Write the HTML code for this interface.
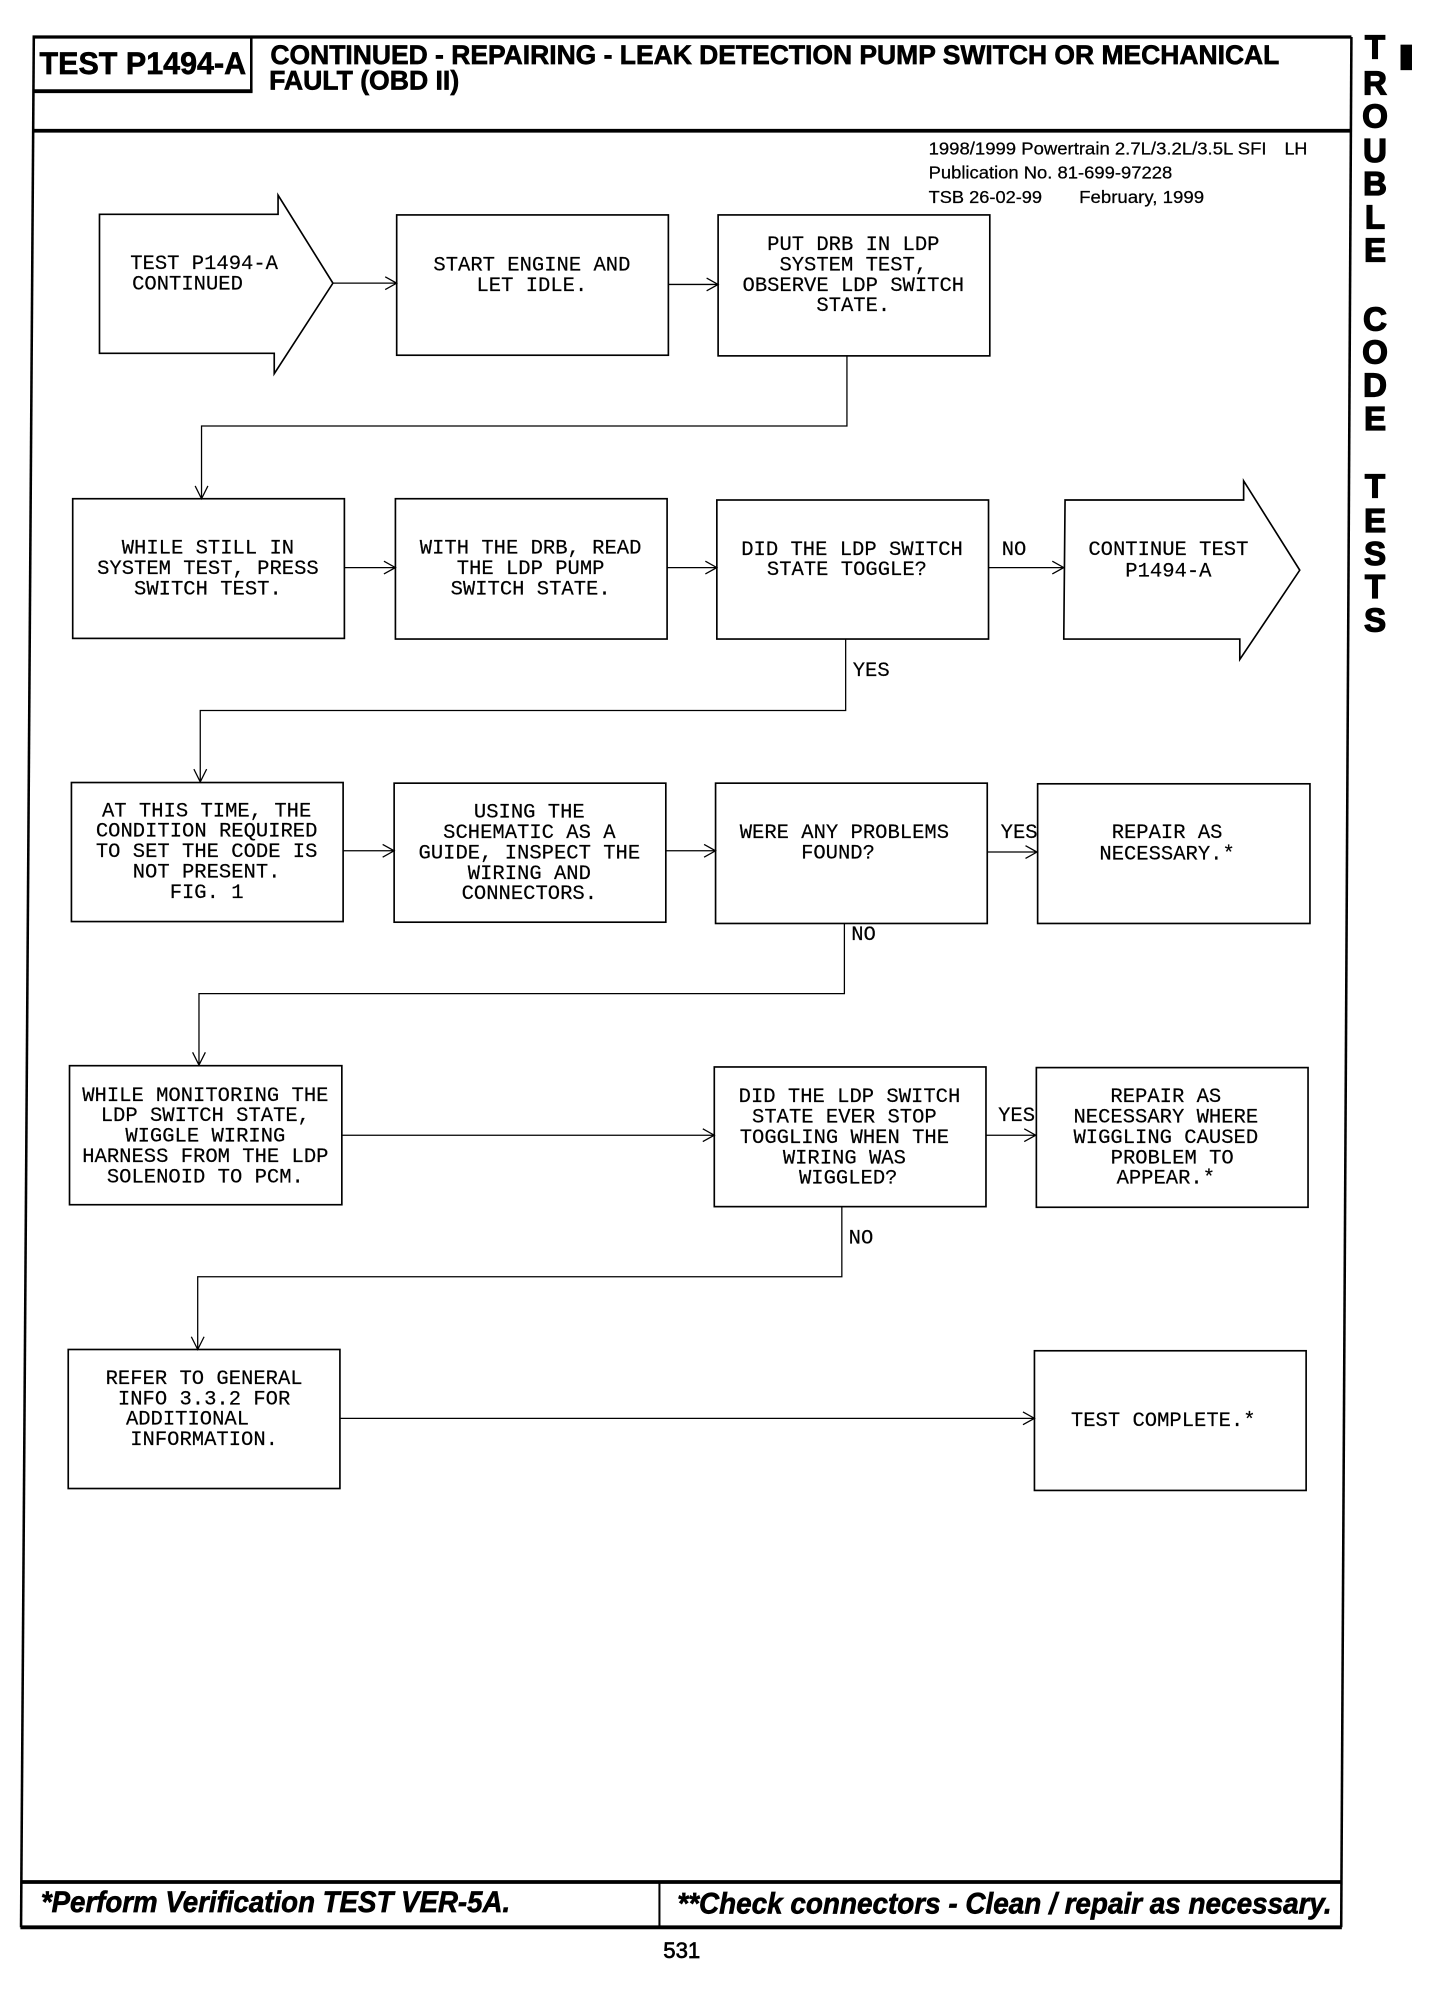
<!DOCTYPE html>
<html lang="en">
<head>
<meta charset="utf-8">
<title>Test P1494-A</title>
<style>
html,body{margin:0;padding:0;background:#fff;}
svg{display:block;}
.m{font-family:"Liberation Mono",monospace;font-size:16.1px;fill:#000;text-anchor:middle;stroke:#000;stroke-width:.15;}
.s{font-family:"Liberation Sans",sans-serif;font-weight:bold;fill:#000;stroke:#000;stroke-width:.5;}
.n{font-family:"Liberation Sans",sans-serif;fill:#000;font-size:13.5px;stroke:#000;stroke-width:.2;}
.v{font-family:"Liberation Sans",sans-serif;font-weight:bold;font-size:26px;fill:#000;text-anchor:middle;stroke:#000;stroke-width:1;}
.b{fill:#fff;stroke:#000;stroke-width:1.3;}
.c{fill:none;stroke:#000;stroke-width:1;}
.f{fill:none;stroke:#000;}
</style>
</head>
<body>
<svg width="1456" height="2000" viewBox="0 0 1141.5 1568" preserveAspectRatio="none" xmlns="http://www.w3.org/2000/svg">
<rect x="0" y="0" width="1141.5" height="1568" fill="#fff"/>

<!-- outer frame -->
<path class="f" stroke-width="2.6" d="M25.5 29 H1059.5"/>
<path class="f" stroke-width="2" d="M26.5 29 L16.5 1511"/>
<path class="f" stroke-width="2" d="M1059.5 29 L1051.5 1511"/>
<path class="f" stroke-width="3" d="M26 102.5 H1059"/>
<path class="f" stroke-width="3" d="M26 71.5 H198"/>
<path class="f" stroke-width="2" d="M197 29 V72"/>
<path class="f" stroke-width="3" d="M17 1475.5 H1052"/>
<path class="f" stroke-width="3" d="M16 1511 H1052"/>
<path class="f" stroke-width="1.6" d="M517 1475 V1511"/>

<!-- header -->
<text class="s" x="31" y="58" font-size="25" textLength="162" lengthAdjust="spacingAndGlyphs">TEST P1494-A</text>
<text class="s" x="212" y="50" font-size="21" textLength="791" lengthAdjust="spacingAndGlyphs">CONTINUED - REPAIRING - LEAK DETECTION PUMP SWITCH OR MECHANICAL</text>
<text class="s" x="211" y="70" font-size="21" textLength="149" lengthAdjust="spacingAndGlyphs">FAULT (OBD II)</text>

<text class="n" x="728" y="121" textLength="265" lengthAdjust="spacingAndGlyphs">1998/1999 Powertrain 2.7L/3.2L/3.5L SFI</text>
<text class="n" x="1007" y="121" textLength="18" lengthAdjust="spacingAndGlyphs">LH</text>
<text class="n" x="728" y="140" textLength="191" lengthAdjust="spacingAndGlyphs">Publication No. 81-699-97228</text>
<text class="n" x="728" y="159" textLength="89" lengthAdjust="spacingAndGlyphs">TSB 26-02-99</text>
<text class="n" x="846" y="159" textLength="98" lengthAdjust="spacingAndGlyphs">February, 1999</text>

<!-- side tab -->
<rect x="1098" y="35" width="9" height="20" fill="#000"/>
<text class="v" x="1078" y="46">T</text>
<text class="v" x="1078" y="74">R</text>
<text class="v" x="1078" y="100">O</text>
<text class="v" x="1078" y="127">U</text>
<text class="v" x="1078" y="153">B</text>
<text class="v" x="1078" y="179">L</text>
<text class="v" x="1078" y="205">E</text>
<text class="v" x="1078" y="259">C</text>
<text class="v" x="1078" y="285">O</text>
<text class="v" x="1078" y="311">D</text>
<text class="v" x="1078" y="337">E</text>
<text class="v" x="1078" y="390">T</text>
<text class="v" x="1078" y="417">E</text>
<text class="v" x="1078" y="443">S</text>
<text class="v" x="1078" y="469">T</text>
<text class="v" x="1078" y="495">S</text>

<!-- row 1 -->
<polygon class="b" points="78,168 218,168 218,153 261,222 215,293 215,277 78,277"/>
<rect class="b" x="311" y="168.5" width="213" height="110"/>
<rect class="b" x="563" y="168.5" width="213" height="110.5"/>
<text class="m" x="160" y="211">TEST P1494-A</text>
<text class="m" x="147" y="227">CONTINUED</text>
<text class="m" x="417" y="212">START ENGINE AND</text>
<text class="m" x="417" y="228">LET IDLE.</text>
<text class="m" x="669" y="196">PUT DRB IN LDP</text>
<text class="m" x="669" y="212">SYSTEM TEST,</text>
<text class="m" x="669" y="228">OBSERVE LDP SWITCH</text>
<text class="m" x="669" y="244">STATE.</text>

<!-- row 2 -->
<rect class="b" x="57" y="391" width="213" height="109.5"/>
<rect class="b" x="310" y="391" width="213" height="110"/>
<rect class="b" x="562" y="392" width="213" height="109"/>
<polygon class="b" points="835,392 975,392 975,377 1019,447 972,517 972,501 834,501"/>
<text class="m" x="163" y="434">WHILE STILL IN</text>
<text class="m" x="163" y="450">SYSTEM TEST, PRESS</text>
<text class="m" x="163" y="466">SWITCH TEST.</text>
<text class="m" x="416" y="434">WITH THE DRB, READ</text>
<text class="m" x="416" y="450">THE LDP PUMP</text>
<text class="m" x="416" y="466">SWITCH STATE.</text>
<text class="m" x="668" y="435">DID THE LDP SWITCH</text>
<text class="m" x="664" y="451">STATE TOGGLE?</text>
<text class="m" x="916" y="435">CONTINUE TEST</text>
<text class="m" x="916" y="452">P1494-A</text>
<text class="m" x="795" y="435">NO</text>
<text class="m" x="683" y="530">YES</text>

<!-- row 3 -->
<rect class="b" x="56" y="613.5" width="213" height="109"/>
<rect class="b" x="309" y="614" width="213" height="109"/>
<rect class="b" x="561" y="614" width="213" height="110"/>
<rect class="b" x="813.5" y="614.5" width="213.5" height="109.5"/>
<text class="m" x="162" y="640">AT THIS TIME, THE</text>
<text class="m" x="162" y="656">CONDITION REQUIRED</text>
<text class="m" x="162" y="672">TO SET THE CODE IS</text>
<text class="m" x="162" y="688">NOT PRESENT.</text>
<text class="m" x="162" y="704">FIG. 1</text>
<text class="m" x="415" y="641">USING THE</text>
<text class="m" x="415" y="657">SCHEMATIC AS A</text>
<text class="m" x="415" y="673">GUIDE, INSPECT THE</text>
<text class="m" x="415" y="689">WIRING AND</text>
<text class="m" x="415" y="705">CONNECTORS.</text>
<text class="m" x="662" y="657">WERE ANY PROBLEMS</text>
<text class="m" x="657" y="673">FOUND?</text>
<text class="m" x="915" y="657">REPAIR AS</text>
<text class="m" x="915" y="674">NECESSARY.*</text>
<text class="m" x="799" y="657">YES</text>
<text class="m" x="677" y="737">NO</text>

<!-- row 4 -->
<rect class="b" x="54.5" y="835.5" width="213.5" height="109"/>
<rect class="b" x="560" y="836.5" width="213" height="109.5"/>
<rect class="b" x="812.5" y="837" width="213" height="109.5"/>
<text class="m" x="161" y="863">WHILE MONITORING THE</text>
<text class="m" x="161" y="879">LDP SWITCH STATE,</text>
<text class="m" x="161" y="895">WIGGLE WIRING</text>
<text class="m" x="161" y="911">HARNESS FROM THE LDP</text>
<text class="m" x="161" y="927">SOLENOID TO PCM.</text>
<text class="m" x="666" y="864">DID THE LDP SWITCH</text>
<text class="m" x="662" y="880">STATE EVER STOP</text>
<text class="m" x="662" y="896">TOGGLING WHEN THE</text>
<text class="m" x="662" y="912">WIRING WAS</text>
<text class="m" x="665" y="928">WIGGLED?</text>
<text class="m" x="914" y="864">REPAIR AS</text>
<text class="m" x="914" y="880">NECESSARY WHERE</text>
<text class="m" x="914" y="896">WIGGLING CAUSED</text>
<text class="m" x="919" y="912">PROBLEM TO</text>
<text class="m" x="914" y="928">APPEAR.*</text>
<text class="m" x="797" y="879">YES</text>
<text class="m" x="675" y="975">NO</text>

<!-- row 5 -->
<rect class="b" x="53.5" y="1058" width="213" height="109"/>
<rect class="b" x="811" y="1059" width="213" height="109.5"/>
<text class="m" x="160" y="1085">REFER TO GENERAL</text>
<text class="m" x="160" y="1101">INFO 3.3.2 FOR</text>
<text class="m" x="147" y="1117">ADDITIONAL</text>
<text class="m" x="160" y="1133">INFORMATION.</text>
<text class="m" x="912" y="1118">TEST COMPLETE.*</text>

<!-- connectors -->
<path class="c" d="M261 222 H311 M302 217 L311 222 L302 227"/>
<path class="c" d="M524 223 H563 M554 218 L563 223 L554 228"/>
<path class="c" d="M664 279 V334 H158 V391 M153 381 L158 391 L163 381"/>
<path class="c" d="M270 445 H310 M301 440 L310 445 L301 450"/>
<path class="c" d="M523 445 H562 M553 440 L562 445 L553 450"/>
<path class="c" d="M775 445 H834 M825 440 L834 445 L825 450"/>
<path class="c" d="M663 501 V557 H157 V613 M152 603 L157 613 L162 603"/>
<path class="c" d="M269 667 H309 M300 662 L309 667 L300 672"/>
<path class="c" d="M522 667 H561 M552 662 L561 667 L552 672"/>
<path class="c" d="M774 668 H813 M804 663 L813 668 L804 673"/>
<path class="c" d="M662 724 V779 H156 V835 M151 825 L156 835 L161 825"/>
<path class="c" d="M268 890 H560 M551 885 L560 890 L551 895"/>
<path class="c" d="M773 890 H812 M803 885 L812 890 L803 895"/>
<path class="c" d="M660 946 V1001 H155 V1058 M150 1048 L155 1058 L160 1048"/>
<path class="c" d="M267 1112 H811 M802 1107 L811 1112 L802 1117"/>

<!-- footer -->
<text class="s" x="32" y="1499" font-size="23" font-style="italic" textLength="368" lengthAdjust="spacingAndGlyphs">*Perform Verification TEST VER-5A.</text>
<text class="s" x="531" y="1500" font-size="23" font-style="italic" textLength="513" lengthAdjust="spacingAndGlyphs">**Check connectors - Clean / repair as necessary.</text>
<text class="s" x="520" y="1535" font-size="17.5" textLength="29" lengthAdjust="spacingAndGlyphs" style="font-weight:normal">531</text>
</svg>
</body>
</html>
